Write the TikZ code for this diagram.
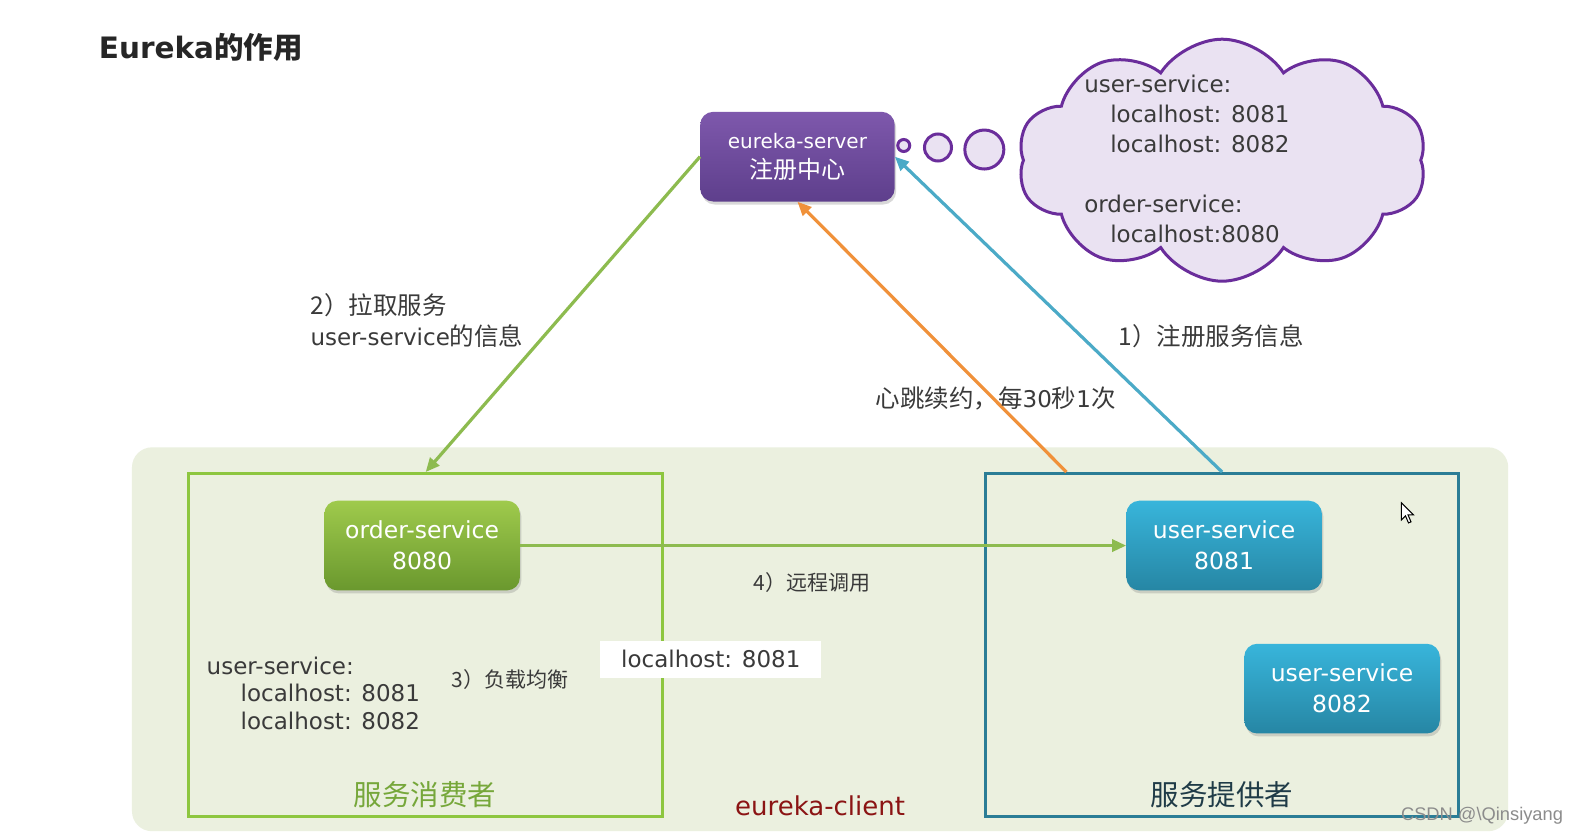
\documentclass[tikz,border=0pt]{standalone}
\usepackage{fontspec}
\setmainfont{Noto Sans CJK SC}
\newfontfamily\lat{DejaVu Sans}
\newfontfamily\wmfont{Liberation Sans}
\usetikzlibrary{shapes.symbols,shadows,calc,arrows.meta,fit}
\newcommand\myfs[2]{\fontsize{#1}{#2}\selectfont}
\newcommand\la[1]{{\lat #1}}
\definecolor{txt}{HTML}{3A3A3A}
\definecolor{bgg}{HTML}{EBF0DF}
\definecolor{lgreen}{HTML}{8DC63F}
\definecolor{tealbox}{HTML}{2B7D96}
\definecolor{purtop}{HTML}{7E58AC}
\definecolor{purbot}{HTML}{5E3F8C}
\definecolor{grtop}{HTML}{9FCA4C}
\definecolor{grbot}{HTML}{6A982E}
\definecolor{bltop}{HTML}{38B5DB}
\definecolor{blbot}{HTML}{2686A4}
\definecolor{cloudfill}{HTML}{EAE2F2}
\definecolor{cloudline}{HTML}{6A2D9B}
\definecolor{arrgreen}{HTML}{8DBB4F}
\definecolor{arrorange}{HTML}{F0913A}
\definecolor{arrblue}{HTML}{4BAAC7}
\definecolor{consumer}{HTML}{76A73A}
\definecolor{provider}{HTML}{1F3B47}
\definecolor{client}{HTML}{8B1414}
\begin{document}
\begin{tikzpicture}[x=1.0075pt,y=-1.0075pt,
  svc/.style={rounded corners=13pt, inner sep=0pt, align=center, text=white,
    minimum width=195.5pt, minimum height=89.7pt,
    drop shadow={opacity=0.3, shadow xshift=1.5pt, shadow yshift=-3pt}},
  grp/.style={inner sep=0pt, line width=3pt, fill=none},
  conn/.style={line width=3.2pt, -{Triangle[length=14pt,width=12pt]}},
  lbl/.style={inner sep=0pt, text=txt},
  bub/.style={circle, draw=cloudline, fill=cloudfill, line width=3pt, inner sep=0pt}]
\useasboundingbox (0,0) rectangle (1568.24,829.78);
\fill[white] (0,0) rectangle (1568.24,829.78);

% title
\node[lbl, anchor=west, text=black!85, font=\bfseries\myfs{29.5}{35}] (title) at (98,47) {\la{Eureka}的作用};

% client background
\node[fit={(131,444) (1497,825)}, inner sep=0pt, fill=bgg, rounded corners=20pt] (bg) {};
\node[grp, draw=lgreen, fit={(187,470) (658,810)}] (leftbox) {};
\node[grp, draw=tealbox, fit={(978,470) (1448,810)}] (rightbox) {};

% server
\node[svc, top color=purtop, bottom color=purbot, minimum width=194.5pt, font=\myfs{24}{30}] (server) at (791.5,155.5) {\la{\myfs{20}{30}eureka-server}\\注册中心};

% thought bubbles and cloud
\node[bub, minimum size=12pt] (b1) at (897,144.4) {};
\node[bub, minimum size=27pt] (b2) at (931,146.4) {};
\node[bub, minimum size=39pt] (b3) at (977,148.4) {};
\node[cloud, cloud puffs=10, cloud puff arc=115, draw=cloudline, fill=cloudfill, line width=3pt,
  minimum width=409pt, minimum height=242pt, inner sep=0pt] (cloud) at (1213,159) {};
\node[lbl, anchor=west, align=left, font=\lat\myfs{23}{30}] (cloudtxt) at (1076,158)
  {user-service:\\\hspace*{26pt}localhost: 8081\\\hspace*{26pt}localhost: 8082\\[30pt]order-service:\\\hspace*{26pt}localhost:8080};

% services
\node[svc, top color=grtop, bottom color=grbot, font=\lat\myfs{23.5}{31}] (order) at (419,541.5) {order-service\\8080};
\node[svc, top color=bltop, bottom color=blbot, font=\lat\myfs{23.5}{31}] (us1) at (1215,541.5) {user-service\\8081};
\node[svc, top color=bltop, bottom color=blbot, font=\lat\myfs{23.5}{31}] (us2) at (1332,683.5) {user-service\\8082};

% connectors
\coordinate (hb) at ($(rightbox.north west)+(82,0)$);
\draw[conn, arrgreen] (server.west) -- (leftbox.north);
\draw[conn, arrorange] (hb) -- (server.south);
\draw[conn, arrblue] (rightbox.north) -- (server.east);
\draw[conn, arrgreen] (order.east) -- (us1.west);

% labels
\node[lbl, anchor=west, align=left, font=\myfs{24.5}{31}] (lpull) at (308,318) {2）拉取服务\\\la{\myfs{23}{31}user-service}的信息};
\node[lbl, anchor=west, font=\myfs{24.5}{31}] (lreg) at (1110,334) {1）注册服务信息};
\node[lbl, anchor=west, font=\myfs{24.5}{31}] (lbeat) at (869,395) {心跳续约，每\la{\myfs{23}{31}30}秒\la{\myfs{23}{31}1}次};
\node[lbl, anchor=west, align=left, font=\lat\myfs{23}{27.5}] (lefttxt) at (205,688)
  {user-service:\\\hspace*{34pt}localhost: 8081\\\hspace*{34pt}localhost: 8082};
\node[lbl, anchor=west, font=\myfs{21}{26}] (llb) at (448,674) {3）负载均衡};
\node[inner sep=0pt, minimum width=220.6pt, minimum height=37.3pt, fill=white, text=txt, font=\lat\myfs{23}{28}] (pick) at (705.5,654.5) {localhost: 8081};
\node[lbl, anchor=west, font=\myfs{21}{26}] (lrpc) at (748,578) {4）远程调用};
\node[lbl, text=consumer, font=\myfs{28.5}{32}] (lcons) at (422,789) {服务消费者};
\node[lbl, text=provider, font=\myfs{28.5}{32}] (lprov) at (1213,789) {服务提供者};
\node[lbl, text=client, font=\lat\myfs{26}{30}] (lclient) at (814,800) {eureka-client};

% cursor
\draw[fill=white, line width=1pt] (1391,499) -- (1391,516) -- (1395,512) -- (1398,519) -- (1400.5,518) -- (1397.5,511) -- (1403,511) -- cycle;

% watermark
\node[lbl, text=black!45, font=\wmfont\myfs{18.3}{22}] (wm) at (1471,810) {CSDN @\textbackslash Qinsiyang};
\end{tikzpicture}
\end{document}
